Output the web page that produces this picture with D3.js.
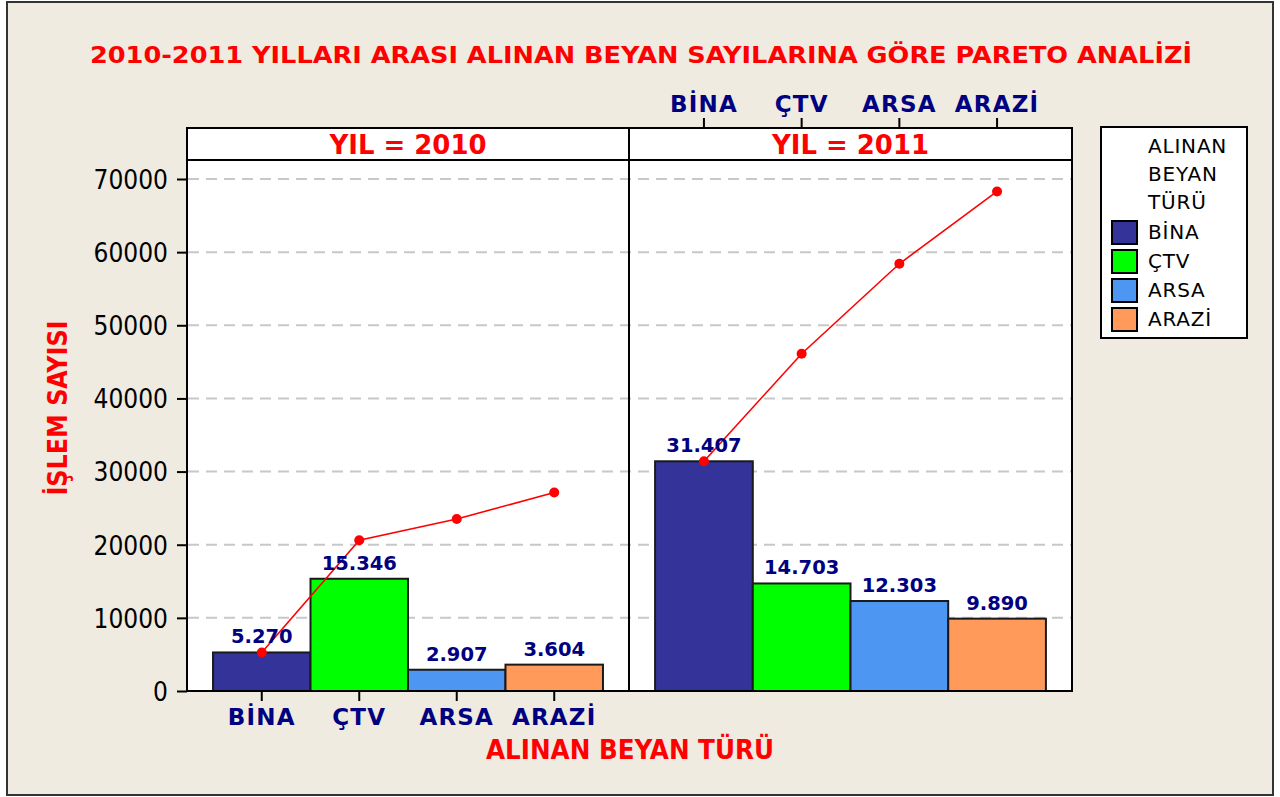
<!DOCTYPE html>
<html>
<head>
<meta charset="utf-8">
<script src="https://cdn.jsdelivr.net/npm/d3@7"></script>
<style>
  html, body { margin: 0; padding: 0; background: #ffffff; }
  svg { display: block; }
</style>
</head>
<body>
<svg id="chart" width="1280" height="797"></svg>
<script>
// Declaration counts by type, per year (Pareto chart)
const categories = ["BİNA", "ÇTV", "ARSA", "ARAZİ"];
const years = ["2010", "2011"];
const values2010 = [5270, 15346, 2907, 3604];
const values2011 = [31407, 14703, 12303, 9890];
const yTicks = [0, 10000, 20000, 30000, 40000, 50000, 60000, 70000];
const colors = ["#333399", "#00FF00", "#4D96F2", "#FF9A5A"];

const titleText = "2010-2011 YILLARI ARASI ALINAN BEYAN SAYILARINA GÖRE PARETO ANALİZİ";
const yTitle = "İŞLEM SAYISI";
const xTitle = "ALINAN BEYAN TÜRÜ";
const legendTitle = ["ALINAN", "BEYAN", "TÜRÜ"];

const seriesByYear = [values2010, values2011];

const svg = d3.select("#chart");
const W = 1280, H = 797;

// layout
const plotTop = 160, stripTop = 128, plotBottom = 691;
const panels = [
  { x0: 187, x1: 629 },
  { x0: 629, x1: 1072 }
];
const red = "#FF0000", navy = "#000080";
const trFmt = d3.formatLocale({ decimal: ",", thousands: ".", grouping: [3], currency: ["", ""] }).format(",d");

// background and outer frame
svg.append("rect").attr("x", 0).attr("y", 0).attr("width", W).attr("height", H).attr("fill", "#ffffff");
svg.append("rect").attr("x", 7).attr("y", 2).attr("width", 1266).attr("height", 793)
  .attr("fill", "#EFEBE1").attr("stroke", "#333333").attr("stroke-width", 2);

const y = d3.scaleLinear().domain([0, 70000]).range([plotBottom, 179]);

// plot areas
panels.forEach(p => {
  svg.append("rect").attr("x", p.x0).attr("y", stripTop).attr("width", p.x1 - p.x0)
    .attr("height", plotBottom - stripTop).attr("fill", "#ffffff");
});

// grid lines
svg.append("g").selectAll("line").data(yTicks.filter(d => d > 0)).join("line")
  .attr("x1", panels[0].x0 + 1).attr("x2", panels[1].x1 - 1)
  .attr("y1", d => y(d)).attr("y2", d => y(d))
  .attr("stroke", "#C8C8C8").attr("stroke-width", 2).attr("stroke-dasharray", "11,7");

// title
svg.append("text").attr("x", 641).attr("y", 63).attr("text-anchor", "middle")
  .attr("font-family", "DejaVu Sans, Verdana, sans-serif").attr("font-weight", "bold")
  .attr("font-size", 23).attr("fill", red)
  .attr("textLength", 1102).attr("lengthAdjust", "spacingAndGlyphs")
  .text(titleText);

panels.forEach((p, i) => {
  const vals = seriesByYear[i];
  const x = d3.scaleBand().domain(categories).range([p.x0, p.x1]).paddingInner(0).paddingOuter(0.267);
  const g = svg.append("g");
  const data = categories.map((c, k) => ({ c, v: vals[k], color: colors[k] }));
  const cum = d3.cumsum(vals);

  // bars
  g.selectAll("rect.bar").data(data).join("rect").attr("class", "bar")
    .attr("x", d => x(d.c)).attr("width", x.bandwidth())
    .attr("y", d => y(d.v)).attr("height", d => y(0) - y(d.v))
    .attr("fill", d => d.color).attr("stroke", "#1a1a1a").attr("stroke-width", 2);

  // cumulative line
  const line = d3.line().x((d, k) => x(categories[k]) + x.bandwidth() / 2).y(d => y(d));
  g.append("path").datum(cum).attr("d", line).attr("fill", "none")
    .attr("stroke", red).attr("stroke-width", 1.6);
  g.selectAll("circle").data(cum).join("circle")
    .attr("cx", (d, k) => x(categories[k]) + x.bandwidth() / 2).attr("cy", d => y(d))
    .attr("r", 5).attr("fill", red);

  // value labels
  g.selectAll("text.val").data(data).join("text").attr("class", "val")
    .attr("x", d => x(d.c) + x.bandwidth() / 2).attr("y", d => y(d.v) - 9)
    .attr("text-anchor", "middle").attr("font-family", "DejaVu Sans, Verdana, sans-serif")
    .attr("font-weight", "bold").attr("font-size", 19.5).attr("fill", navy)
    .text(d => trFmt(d.v));

  // strip header
  svg.append("rect").attr("x", p.x0).attr("y", stripTop).attr("width", p.x1 - p.x0)
    .attr("height", plotTop - stripTop).attr("fill", "#ffffff").attr("stroke", "#000").attr("stroke-width", 2);
  svg.append("text").attr("x", (p.x0 + p.x1) / 2).attr("y", 154).attr("text-anchor", "middle")
    .attr("font-family", "DejaVu Sans Condensed, DejaVu Sans, sans-serif").attr("font-weight", "bold")
    .attr("font-size", 27).attr("fill", red)
    .attr("textLength", 157).attr("lengthAdjust", "spacingAndGlyphs")
    .text("YIL = " + years[i]);

  // panel frame
  svg.append("rect").attr("x", p.x0).attr("y", plotTop).attr("width", p.x1 - p.x0)
    .attr("height", plotBottom - plotTop).attr("fill", "none").attr("stroke", "#000").attr("stroke-width", 2);

  // category axis: bottom for first panel, top for second
  const catAxis = (i === 0 ? d3.axisBottom(x) : d3.axisTop(x)).tickSize(10).tickSizeOuter(0).tickPadding(6);
  const ag = svg.append("g")
    .attr("transform", `translate(0,${i === 0 ? plotBottom : stripTop})`)
    .call(catAxis);
  ag.select(".domain").remove();
  ag.selectAll(".tick line").attr("stroke", "#000").attr("stroke-width", 2);
  ag.selectAll(".tick text").attr("font-family", "DejaVu Sans, Verdana, sans-serif")
    .attr("font-weight", "bold").attr("font-size", 23).attr("letter-spacing", 1.2)
    .attr("fill", navy).attr("dy", i === 0 ? "0.78em" : "0em");
});

// y axis
const yAxis = svg.append("g").attr("transform", `translate(${panels[0].x0},0)`)
  .call(d3.axisLeft(y).tickValues(yTicks).tickFormat(d3.format("d")).tickSize(10).tickPadding(9).tickSizeOuter(0));
yAxis.select(".domain").remove();
yAxis.selectAll(".tick line").attr("stroke", "#000").attr("stroke-width", 2);
yAxis.selectAll(".tick text").attr("font-family", "DejaVu Sans Condensed, DejaVu Sans, sans-serif")
  .attr("font-size", 26).attr("fill", "#000").attr("dy", "0.36em");

// axis titles
svg.append("text").attr("transform", "translate(67,408) rotate(-90)").attr("text-anchor", "middle")
  .attr("font-family", "DejaVu Sans Condensed, DejaVu Sans, sans-serif").attr("font-weight", "bold")
  .attr("font-size", 27).attr("fill", red)
  .attr("textLength", 175).attr("lengthAdjust", "spacingAndGlyphs")
  .text(yTitle);
svg.append("text").attr("x", 630).attr("y", 759).attr("text-anchor", "middle")
  .attr("font-family", "DejaVu Sans Condensed, DejaVu Sans, sans-serif").attr("font-weight", "bold")
  .attr("font-size", 26).attr("fill", red)
  .attr("textLength", 288).attr("lengthAdjust", "spacingAndGlyphs")
  .text(xTitle);

// legend
const lg = svg.append("g");
lg.append("rect").attr("x", 1101).attr("y", 127).attr("width", 146).attr("height", 211)
  .attr("fill", "#ffffff").attr("stroke", "#000").attr("stroke-width", 2);
lg.selectAll("text.lt").data(legendTitle).join("text").attr("class", "lt")
  .attr("x", 1148).attr("y", (d, k) => 153 + k * 28)
  .attr("font-family", "DejaVu Sans, Tahoma, sans-serif").attr("font-size", 20).attr("letter-spacing", 0.8)
  .attr("fill", "#000")
  .text(d => d);
const items = lg.selectAll("g.item").data(categories).join("g").attr("class", "item")
  .attr("transform", (d, k) => `translate(1112,${221 + k * 29})`);
items.append("rect").attr("width", 25).attr("height", 23)
  .attr("fill", (d, k) => colors[k]).attr("stroke", "#000").attr("stroke-width", 2);
items.append("text").attr("x", 36).attr("y", 18)
  .attr("font-family", "DejaVu Sans, Tahoma, sans-serif").attr("font-size", 20).attr("letter-spacing", 0.8)
  .attr("fill", "#000")
  .text(d => d);
</script>
</body>
</html>
